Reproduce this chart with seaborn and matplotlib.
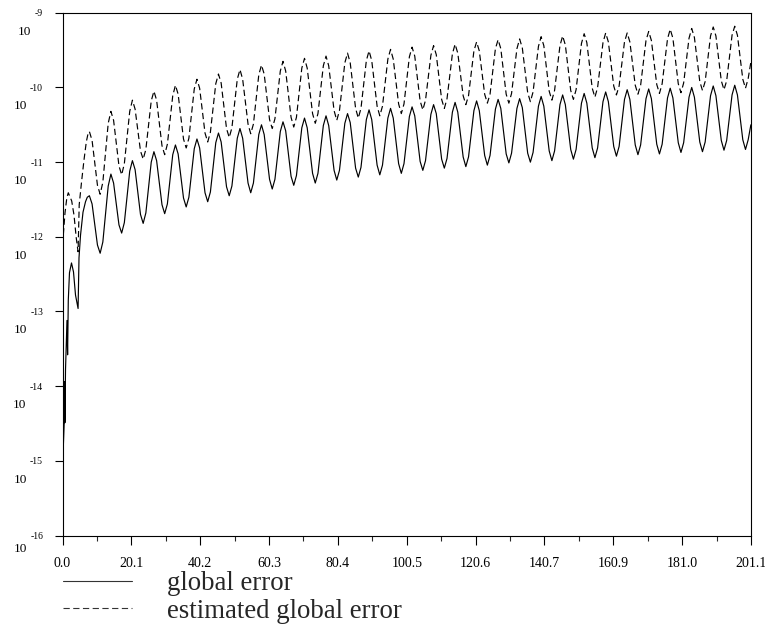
import numpy as np
import pandas as pd
import matplotlib
matplotlib.use("Agg")
import matplotlib.pyplot as plt
import seaborn as sns
from matplotlib.lines import Line2D
from matplotlib.ticker import FixedLocator, NullLocator

# ---------------------------------------------------------------------------
# Data: log10 of the global error and of its estimate along the integration
# ---------------------------------------------------------------------------
series_names = ["global error", "estimated global error"]

# start-up transient (irregular sampling)
t_start_global = [0.00, 0.09, 0.53, 0.61, 0.70, 0.88, 1.31, 1.49, 1.69, 2.04,
                  2.63, 3.21, 3.80, 4.55, 4.82, 5.26, 5.99, 6.72, 7.24]
log_start_global = [-15.35, -14.99, -14.45, -13.94, -14.49, -13.78, -13.12,
                    -13.58, -12.85, -12.48, -12.35, -12.47, -12.78, -12.96,
                    -12.28, -11.98, -11.67, -11.53, -11.47]

t_start_estimated = [0.00, 0.23, 0.73, 1.26, 1.69, 2.69, 3.36, 4.03, 4.55,
                     4.88, 5.55, 6.28, 6.95, 7.45]
log_start_estimated = [-12.75, -11.98, -11.68, -11.48, -11.41, -11.52, -11.71,
                       -12.02, -12.20, -11.57, -11.27, -10.97, -10.73, -10.62]

# periodic regime, sampled every pi/4 from t = 5*pi/2 up to t = 64*pi
regular_first_time = 2.5 * np.pi
regular_step = np.pi / 4

log_regular_global = [
    -11.45, -11.56, -11.84, -12.11, -12.22, -12.07, -11.69, -11.32,
    -11.16, -11.28, -11.56, -11.84, -11.95, -11.81, -11.47, -11.12,
    -10.98, -11.10, -11.40, -11.70, -11.82, -11.68, -11.34, -11.00,
    -10.86, -10.98, -11.28, -11.57, -11.69, -11.56, -11.23, -10.90,
    -10.77, -10.89, -11.19, -11.48, -11.60, -11.47, -11.15, -10.82,
    -10.69, -10.81, -11.11, -11.41, -11.53, -11.40, -11.07, -10.74,
    -10.61, -10.73, -11.03, -11.33, -11.45, -11.32, -11.00, -10.68,
    -10.55, -10.68, -10.98, -11.28, -11.41, -11.28, -10.96, -10.63,
    -10.50, -10.63, -10.93, -11.23, -11.36, -11.23, -10.91, -10.59,
    -10.46, -10.58, -10.89, -11.19, -11.31, -11.18, -10.86, -10.54,
    -10.41, -10.54, -10.85, -11.15, -11.28, -11.15, -10.83, -10.51,
    -10.38, -10.51, -10.81, -11.11, -11.24, -11.11, -10.80, -10.48,
    -10.35, -10.47, -10.78, -11.08, -11.20, -11.07, -10.75, -10.43,
    -10.30, -10.43, -10.74, -11.04, -11.17, -11.04, -10.73, -10.41,
    -10.28, -10.41, -10.72, -11.02, -11.15, -11.02, -10.71, -10.39,
    -10.26, -10.38, -10.69, -10.99, -11.11, -10.98, -10.67, -10.36,
    -10.23, -10.35, -10.66, -10.96, -11.08, -10.95, -10.64, -10.33,
    -10.20, -10.33, -10.63, -10.93, -11.06, -10.93, -10.62, -10.31,
    -10.18, -10.31, -10.61, -10.91, -11.04, -10.91, -10.60, -10.29,
    -10.16, -10.28, -10.59, -10.89, -11.01, -10.88, -10.58, -10.28,
    -10.15, -10.27, -10.58, -10.88, -11.00, -10.87, -10.56, -10.25,
    -10.12, -10.25, -10.55, -10.85, -10.98, -10.85, -10.54, -10.23,
    -10.10, -10.23, -10.53, -10.83, -10.96, -10.83, -10.52, -10.21,
    -10.08, -10.21, -10.51, -10.81, -10.94, -10.81, -10.50, -10.19,
    -10.06, -10.19, -10.49, -10.79, -10.92, -10.79, -10.48, -10.16,
    -10.03, -10.16, -10.47, -10.77, -10.90, -10.77, -10.46, -10.15,
    -10.02, -10.15, -10.46, -10.76, -10.89, -10.76, -10.45, -10.14,
    -10.01, -10.14, -10.44, -10.74, -10.87, -10.74, -10.44, -10.13,
    -10.00, -10.13, -10.43, -10.73, -10.86, -10.73, -10.42, -10.11,
    -9.98, -10.11, -10.41, -10.71, -10.84, -10.71, -10.41, -10.10,
    -9.97, -10.10, -10.40, -10.70, -10.83, -10.70, -10.50,
]

log_regular_estimated = [
    -10.59, -10.71, -11.01, -11.31, -11.43, -11.27, -10.88, -10.48,
    -10.32, -10.44, -10.75, -11.05, -11.17, -11.02, -10.67, -10.32,
    -10.17, -10.29, -10.57, -10.85, -10.96, -10.83, -10.51, -10.18,
    -10.05, -10.17, -10.48, -10.78, -10.90, -10.76, -10.44, -10.11,
    -9.97, -10.09, -10.39, -10.69, -10.81, -10.68, -10.35, -10.02,
    -9.89, -10.01, -10.31, -10.61, -10.73, -10.60, -10.28, -9.95,
    -9.82, -9.94, -10.25, -10.55, -10.67, -10.54, -10.22, -9.89,
    -9.76, -9.89, -10.19, -10.49, -10.62, -10.49, -10.16, -9.83,
    -9.70, -9.82, -10.13, -10.43, -10.55, -10.42, -10.10, -9.78,
    -9.65, -9.78, -10.09, -10.40, -10.53, -10.40, -10.07, -9.74,
    -9.61, -9.74, -10.05, -10.35, -10.48, -10.35, -10.03, -9.71,
    -9.58, -9.71, -10.01, -10.31, -10.44, -10.31, -9.99, -9.67,
    -9.54, -9.67, -9.98, -10.28, -10.41, -10.28, -9.96, -9.64,
    -9.51, -9.64, -9.95, -10.25, -10.38, -10.25, -9.94, -9.62,
    -9.49, -9.62, -9.92, -10.22, -10.35, -10.22, -9.91, -9.59,
    -9.46, -9.58, -9.88, -10.18, -10.30, -10.17, -9.87, -9.57,
    -9.44, -9.56, -9.86, -10.16, -10.28, -10.15, -9.85, -9.55,
    -9.42, -9.54, -9.83, -10.11, -10.23, -10.11, -9.81, -9.51,
    -9.39, -9.51, -9.80, -10.09, -10.21, -10.09, -9.79, -9.48,
    -9.36, -9.48, -9.79, -10.09, -10.21, -10.08, -9.78, -9.48,
    -9.35, -9.47, -9.77, -10.07, -10.19, -10.06, -9.76, -9.45,
    -9.32, -9.44, -9.75, -10.05, -10.17, -10.04, -9.74, -9.44,
    -9.31, -9.43, -9.74, -10.04, -10.16, -10.03, -9.72, -9.41,
    -9.28, -9.40, -9.71, -10.01, -10.13, -10.00, -9.70, -9.40,
    -9.27, -9.39, -9.69, -9.98, -10.10, -9.98, -9.69, -9.39,
    -9.27, -9.39, -9.68, -9.97, -10.09, -9.97, -9.67, -9.37,
    -9.25, -9.37, -9.67, -9.96, -10.08, -9.95, -9.65, -9.35,
    -9.22, -9.34, -9.65, -9.95, -10.07, -9.94, -9.64, -9.34,
    -9.21, -9.33, -9.63, -9.92, -10.04, -9.92, -9.62, -9.31,
    -9.19, -9.31, -9.61, -9.91, -10.03, -9.91, -9.61, -9.30,
    -9.18, -9.30, -9.60, -9.89, -10.01, -9.88, -9.66,
]

x_tick_labels = ["0.0", "20.1", "40.2", "60.3", "80.4", "100.5",
                 "120.6", "140.7", "160.9", "181.0", "201.1"]
x_max = 201.1
decade_exponents = [-16, -15, -14, -13, -12, -11, -10, -9]

# ---------------------------------------------------------------------------
# Assemble a long table for seaborn
# ---------------------------------------------------------------------------
t_regular = regular_first_time + regular_step * np.arange(len(log_regular_global))
frames = []
for name, t0, l0, lr in [
    (series_names[0], t_start_global, log_start_global, log_regular_global),
    (series_names[1], t_start_estimated, log_start_estimated, log_regular_estimated),
]:
    t_all = np.concatenate([np.asarray(t0), t_regular[: len(lr)]])
    log_all = np.concatenate([np.asarray(l0), np.asarray(lr)])
    frames.append(pd.DataFrame({"t": t_all, "error": 10.0 ** log_all, "series": name}))
df = pd.concat(frames, ignore_index=True)

# ---------------------------------------------------------------------------
# Figure
# ---------------------------------------------------------------------------
sns.set_style("ticks")
plt.rcParams["font.family"] = ["Liberation Serif", "DejaVu Serif"]
plt.rcParams["lines.scale_dashes"] = False

W, H = 765, 631
fig = plt.figure(figsize=(W / 100, H / 100), dpi=100)
ax_left, ax_right, ax_top, ax_bottom = 62.5, 751.0, 12.8, 535.5
ax = fig.add_axes([ax_left / W, 1 - ax_bottom / H,
                   (ax_right - ax_left) / W, (ax_bottom - ax_top) / H])

line_styles = {series_names[0]: "", series_names[1]: (4.5, 2.5)}
sns.lineplot(data=df, x="t", y="error", style="series", dashes=line_styles,
             style_order=series_names, color="black", linewidth=0.85,
             estimator=None, legend=False, ax=ax)

ax.set_yscale("log")
ax.set_xlim(0, x_max)
ax.set_ylim(10.0 ** decade_exponents[0], 10.0 ** decade_exponents[-1])
ax.set_xlabel("")
ax.set_ylabel("")

for sp in ax.spines.values():
    sp.set_visible(True)
    sp.set_linewidth(0.8)
    sp.set_color("black")

# x axis: labelled major ticks and unlabelled minor ticks half-way
x_major = np.linspace(0, x_max, len(x_tick_labels))
ax.xaxis.set_major_locator(FixedLocator(x_major))
ax.xaxis.set_minor_locator(FixedLocator((x_major[:-1] + x_major[1:]) / 2))
ax.set_xticklabels(x_tick_labels)
ax.tick_params(axis="x", which="major", direction="out", length=6.5, width=0.8,
               pad=9, labelsize=10, colors="black")
ax.tick_params(axis="x", which="minor", direction="out", length=3.6, width=0.8)

# y axis: one tick per decade, exponent written as a raised label
ax.yaxis.set_major_locator(FixedLocator([10.0 ** e for e in decade_exponents]))
ax.yaxis.set_minor_locator(NullLocator())
ax.set_yticklabels([str(e) for e in decade_exponents])
ax.tick_params(axis="y", which="major", direction="out", length=5.5, width=0.8,
               pad=8.5, labelsize=7, colors="black")

fig.canvas.draw()
renderer = fig.canvas.get_renderer()
inv = fig.transFigure.inverted()
for i, lab in enumerate(ax.get_yticklabels()):
    bb = lab.get_window_extent(renderer)
    x_px = bb.x0 - 3.3
    y_center = (bb.y0 + bb.y1) / 2
    drop = 12 if i == 0 else 18
    fx, fy = inv.transform((x_px, y_center - drop))
    fig.text(fx, fy, "10", ha="right", va="center", fontsize=9.5,
             color="black")

# legend below the axes
handles = [Line2D([], [], color="#333333", linewidth=0.8, linestyle="-"),
           Line2D([], [], color="#333333", linewidth=0.8,
                  linestyle=(0, line_styles[series_names[1]]))]
ax.legend(handles, series_names, loc="upper left",
          bbox_to_anchor=(62.7 / W, 1 - 571 / H), bbox_transform=fig.transFigure,
          frameon=False, fontsize=19.3, handlelength=2.57, handletextpad=1.31,
          labelspacing=0.1, borderpad=0, borderaxespad=0)

fig.savefig("out.png", dpi=100)
